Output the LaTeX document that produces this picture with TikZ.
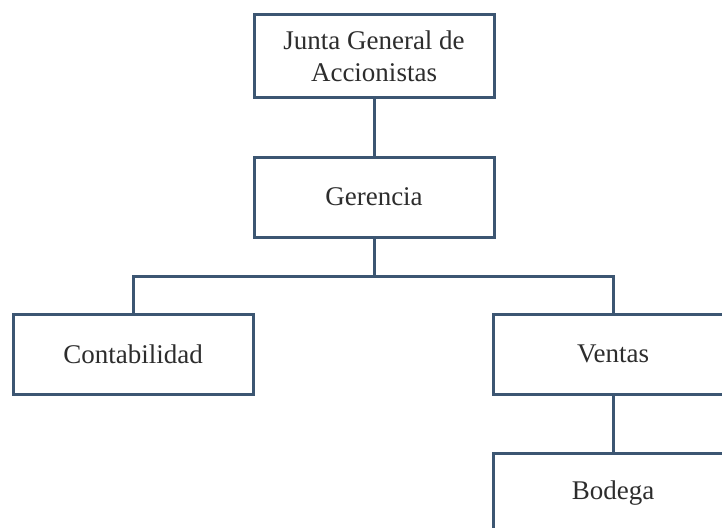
\documentclass[tikz,border=0pt]{standalone}
\usepackage{fontspec}
\setmainfont{Liberation Serif}
\usetikzlibrary{positioning}
\definecolor{boxline}{RGB}{60,86,114}
\definecolor{boxtext}{RGB}{45,45,45}
\tikzset{
	unit/.style={draw=boxline, line width=3pt, fill=white, text=boxtext,
		minimum width=240pt, minimum height=80pt, align=center,
		font=\fontsize{27}{32}\selectfont},
	link/.style={draw=boxline, line width=3pt}
}

\begin{document}
\begin{tikzpicture}[x=1pt, y=-1pt]
		%%%%% START %%%%%
		\useasboundingbox (0, 0) rectangle (722, 527);
		\clip (0, 0) rectangle (722, 527);
		
		\node[unit, minimum height=82pt] (junta) at (374, 56) {Junta General de\\Accionistas};
		\node[unit] (gerencia) at (374, 197) {Gerencia};
		\node[unit] (conta) at (133, 354) {Contabilidad};
		\node[unit] (ventas) at (613, 354) {Ventas};
		\node[unit] (bodega) at (613, 493) {Bodega};
		
		\coordinate (split) at (374, 276);
		
		\draw[link] (junta) -- (gerencia);
		\draw[link] (gerencia) -- (split);
		\draw[link] (conta.north) |- (split) -| (ventas.north);
		\draw[link] (ventas) -- (bodega);
		
		%%%%% END %%%%%
	\end{tikzpicture}
\end{document}
